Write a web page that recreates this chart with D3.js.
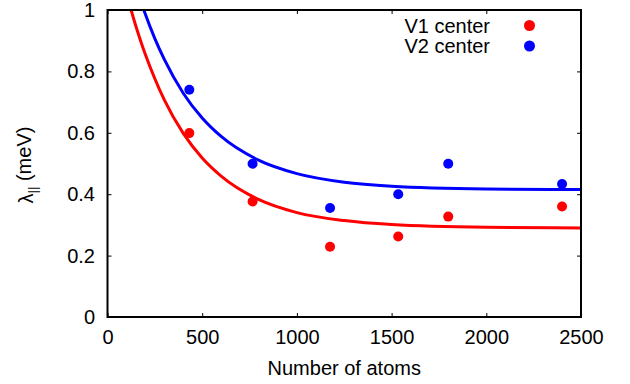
<!DOCTYPE html>
<html>
<head>
<meta charset="utf-8">
<script src="https://cdn.jsdelivr.net/npm/d3@7"></script>
<style>
    body { margin: 0; background: #fff; }
    svg { font-family: "Liberation Sans", Arial, sans-serif; }
</style>
</head>
<body>
<div id="chart"></div>
<script>
    // measured points
    const atoms = [432, 766, 1175, 1535, 1799, 2400];
    const v1Values = [0.599, 0.376, 0.229, 0.262, 0.327, 0.360];
    const v2Values = [0.740, 0.499, 0.355, 0.400, 0.499, 0.433];

    // fitted curves
    const fitAtoms = [100, 150, 175, 200, 250, 300, 400, 500, 600, 800, 1000, 1250, 1500, 2000, 2500];
    const v1Fit = [1.054, 0.947, 0.899, 0.855, 0.776, 0.707, 0.598, 0.518, 0.459, 0.382, 0.340, 0.314, 0.301, 0.292, 0.290];
    const v2Fit = [1.160, 1.079, 1.031, 0.986, 0.907, 0.839, 0.729, 0.648, 0.588, 0.510, 0.467, 0.439, 0.426, 0.417, 0.415];

    const xTicks = [0, 500, 1000, 1500, 2000, 2500];
    const yTicks = [0, 0.2, 0.4, 0.6, 0.8, 1];

    const seriesNames = ["V1 center", "V2 center"];
    const seriesColors = ["#ff0000", "#0000ff"];

    const width = 630, height = 384;
    const margin = {top: 10, right: 49, bottom: 67, left: 107.5};
    const innerW = width - margin.left - margin.right;
    const innerH = height - margin.top - margin.bottom;

    const svg = d3.select("#chart").append("svg")
        .attr("width", width)
        .attr("height", height);

    const g = svg.append("g")
        .attr("transform", "translate(" + margin.left + "," + margin.top + ")");

    const x = d3.scaleLinear().domain([0, 2500]).range([0, innerW]);
    const y = d3.scaleLinear().domain([0, 1]).range([innerH, 0]);

    svg.append("defs").append("clipPath")
        .attr("id", "plotClip")
        .append("rect")
        .attr("width", innerW)
        .attr("height", innerH);

    const fontSize = 20;

    // axes with inward ticks, gnuplot style
    g.append("g")
        .attr("transform", "translate(0," + innerH + ")")
        .call(d3.axisBottom(x).tickValues(xTicks).tickFormat(d3.format("d"))
            .tickSizeInner(-4).tickSizeOuter(0).tickPadding(13));
    g.append("g")
        .call(d3.axisLeft(y).tickValues(yTicks).tickFormat(d => d === 0 || d === 1 ? d3.format("d")(d) : d3.format(".1f")(d))
            .tickSizeInner(-4).tickSizeOuter(0).tickPadding(12.5));
    g.append("g")
        .call(d3.axisTop(x).tickValues(xTicks).tickSizeInner(-4).tickSizeOuter(0).tickFormat(""));
    g.append("g")
        .attr("transform", "translate(" + innerW + ",0)")
        .call(d3.axisRight(y).tickValues(yTicks).tickSizeInner(-4).tickSizeOuter(0).tickFormat(""));

    g.selectAll(".domain").remove();
    g.selectAll(".tick line").attr("stroke", "#000").attr("stroke-width", 1);
    g.selectAll(".tick text")
        .attr("fill", "#000")
        .style("font-size", fontSize + "px")
        .style("font-family", "'Liberation Sans', Arial, sans-serif");

    const line = d3.line()
        .x(d => x(d[0]))
        .y(d => y(d[1]))
        .curve(d3.curveMonotoneX);

    const curves = g.append("g").attr("clip-path", "url(#plotClip)");
    [v1Fit, v2Fit].forEach((fit, i) => {
        curves.append("path")
            .datum(fitAtoms.map((a, j) => [a, fit[j]]))
            .attr("fill", "none")
            .attr("stroke", seriesColors[i])
            .attr("stroke-width", 3)
            .attr("stroke-linejoin", "round")
            .attr("d", line);
    });

    [v1Values, v2Values].forEach((vals, i) => {
        g.append("g").selectAll("circle")
            .data(atoms.map((a, j) => [a, vals[j]]))
            .join("circle")
            .attr("cx", d => x(d[0]))
            .attr("cy", d => y(d[1]))
            .attr("r", 5)
            .attr("fill", seriesColors[i]);
    });

    // border
    g.append("rect")
        .attr("width", innerW)
        .attr("height", innerH)
        .attr("fill", "none")
        .attr("stroke", "#000")
        .attr("stroke-width", 2);

    // legend
    const legend = g.append("g");
    seriesNames.forEach((name, i) => {
        const ly = 15.5 + i * 20.5;
        legend.append("text")
            .attr("x", 490 - margin.left)
            .attr("y", ly)
            .attr("dy", "0.35em")
            .attr("text-anchor", "end")
            .style("font-size", fontSize + "px")
            .text(name);
        legend.append("circle")
            .attr("cx", 529.5 - margin.left)
            .attr("cy", ly)
            .attr("r", 5.5)
            .attr("fill", seriesColors[i]);
    });

    // axis titles
    svg.append("text")
        .attr("x", margin.left + innerW / 2)
        .attr("y", 375)
        .attr("text-anchor", "middle")
        .style("font-size", fontSize + "px")
        .text("Number of atoms");

    const yTitle = svg.append("text")
        .attr("transform", "translate(33,165) rotate(-90)")
        .attr("text-anchor", "middle")
        .style("font-size", fontSize + "px");
    yTitle.append("tspan").text("λ");
    yTitle.append("tspan").attr("dy", "0.3em").style("font-size", "13px").text("||");
    yTitle.append("tspan").attr("dy", "-0.3em").text(" (meV)");
</script>
</body>
</html>
